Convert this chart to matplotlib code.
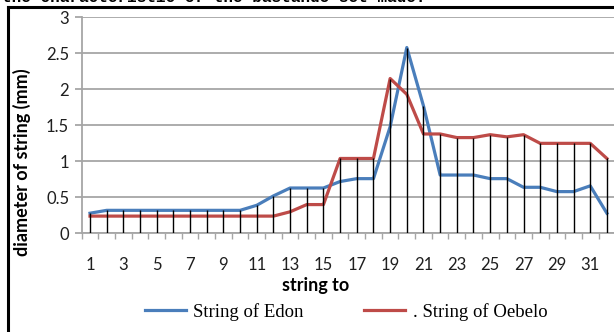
import numpy as np
import matplotlib
matplotlib.use('Agg')
import matplotlib.pyplot as plt
from matplotlib.lines import Line2D

# string number 1..32
strings = np.arange(1, 33)
edon = [0.28, 0.32, 0.32, 0.32, 0.32, 0.32, 0.32, 0.32, 0.32, 0.32,
        0.39, 0.52, 0.63, 0.63, 0.63, 0.72, 0.76, 0.76, 1.48, 2.58,
        1.77, 0.81, 0.81, 0.81, 0.76, 0.76, 0.64, 0.64, 0.58, 0.58,
        0.66, 0.28]
oebelo = [0.24, 0.24, 0.24, 0.24, 0.24, 0.24, 0.24, 0.24, 0.24, 0.24,
          0.24, 0.24, 0.30, 0.40, 0.40, 1.04, 1.04, 1.04, 2.15, 1.93,
          1.38, 1.38, 1.33, 1.33, 1.37, 1.34, 1.37, 1.25, 1.25, 1.25,
          1.25, 1.04]
xtick_labels = [str(i) for i in range(1, 32, 2)]

plt.rcParams['font.family'] = ['Lato', 'DejaVu Sans']

fig = plt.figure(figsize=(6.14, 3.32), dpi=100)
ax = fig.add_axes([0.133, 0.297, 0.869, 0.651])

grid_c = '#a6a6a6'
ax.plot(strings, edon, color='#4a7ebb', lw=2.3, solid_joinstyle='round', zorder=3,
        label='String of Edon')
ax.plot(strings, oebelo, color='#be4b48', lw=2.3, solid_joinstyle='round', zorder=3,
        label='. String of Oebelo')
ax.vlines(strings, 0, np.maximum(edon, oebelo), color='black', lw=1.0, zorder=4)

ax.set_xlim(0.5, 32.5)
ax.set_ylim(0, 3)
ax.set_yticks(np.arange(0, 3.01, 0.5))
ax.set_yticklabels(['0', '0.5', '1', '1.5', '2', '2.5', '3'])
ax.set_xticks(range(1, 32, 2))
ax.set_xticklabels(xtick_labels)
ax.set_xticks(np.arange(0.5, 33, 1), minor=True)
ax.yaxis.grid(True, color=grid_c, lw=1.3)
ax.set_axisbelow(True)

for s in ['top', 'right']:
    ax.spines[s].set_visible(False)
for s in ['left', 'bottom']:
    ax.spines[s].set_color(grid_c)
    ax.spines[s].set_linewidth(1.3)

ax.tick_params(axis='y', length=5, color=grid_c, width=1.3, labelsize=12,
               labelcolor='#1f1f1f', pad=4)
ax.tick_params(axis='x', which='major', length=0, labelsize=12,
               labelcolor='#1f1f1f', pad=17)
ax.tick_params(axis='x', which='minor', length=4, color=grid_c, width=1.0)

fig.text(316 / 614, 1 - 286 / 332, 'string to', fontsize=13, fontweight='bold',
         ha='center', va='center')
fig.text(22 / 614, 1 - 162 / 332, 'diameter of string (mm)', fontsize=13,
         fontweight='bold', rotation=90, ha='center', va='center')

fig.legend(loc='center', bbox_to_anchor=(346 / 614, 1 - 312 / 332), ncol=2,
           frameon=False, handlelength=2.2, handletextpad=0.4, columnspacing=3.2,
           prop={'family': 'Liberation Serif', 'size': 13.5})

# caption cut off at the top of the crop
fig.text(2 / 614, 1 - 2 / 332, 'the characteristic of the bastando set made.',
         fontsize=11.5, fontweight='bold', family='Liberation Mono',
         ha='left', va='baseline')

# frame around the chart
fig.add_artist(Line2D([7.5 / 614, 7.5 / 614], [0, 1 - 6.5 / 332],
                      color='black', lw=2.2, transform=fig.transFigure))
fig.add_artist(Line2D([7.5 / 614, 1], [1 - 6.5 / 332, 1 - 6.5 / 332],
                      color='black', lw=2.2, transform=fig.transFigure))

fig.savefig('out.png', dpi=100)
